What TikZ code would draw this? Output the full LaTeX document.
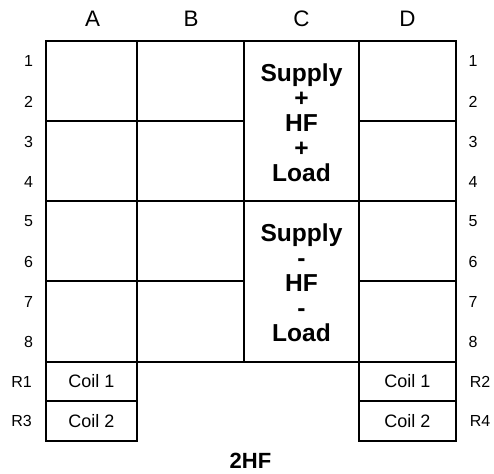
\documentclass[tikz,border=0pt]{standalone}
\usepackage{fontspec}
\setmainfont{Liberation Sans}
\begin{document}
\begin{tikzpicture}[x=0.75pt,y=-0.75pt,
  cellbox/.style={draw=black,line width=1.35pt,inner sep=0pt,fill=white,rectangle},
  headtxt/.style={inner sep=0pt,text=black,font=\fontsize{16.8pt}{18pt}\selectfont},
  rowtxt/.style={inner sep=0pt,text=black,font=\fontsize{12pt}{14pt}\selectfont},
  coiltxt/.style={inner sep=0pt,text=black,font=\fontsize{13.5pt}{15pt}\selectfont},
  bigtxt/.style={inner sep=0pt,text=black,align=center,font=\fontsize{18.4pt}{18.75pt}\selectfont\bfseries},
]
\useasboundingbox (0,0) rectangle (494,474);
\foreach \nm/\xa/\xb in {A/46/137,B/137/244,D/359/456}{
  \foreach \r/\ya/\yb in {p/41/121,q/121/201,r/201/281,s/281/362}{
    \node[cellbox,minimum width={(\xb-\xa)*0.75pt},minimum height={(\yb-\ya)*0.75pt}] (\nm\r) at ({(\xa+\xb)/2},{(\ya+\yb)/2}) {};
  }
}
\node[cellbox,minimum width=86.25pt,minimum height=120pt] (Cp) at (301.5,121) {};
\node[cellbox,minimum width=86.25pt,minimum height=120.75pt] (Cq) at (301.5,281.5) {};
\node[bigtxt] (Tp) at (301.5,122.5) {Supply\\+\\HF\\+\\Load};
\node[bigtxt] (Tq) at (301.5,282.5) {Supply\\-\\HF\\-\\Load};
\node[cellbox,coiltxt,minimum width=68.25pt,minimum height=29.25pt] (c1) at (91.5,381.5) {Coil 1};
\node[cellbox,coiltxt,minimum width=68.25pt,minimum height=30pt] (c2) at (91.5,421) {Coil 2};
\node[cellbox,coiltxt,minimum width=72.75pt,minimum height=29.25pt] (c3) at (407.5,381.5) {Coil 1};
\node[cellbox,coiltxt,minimum width=72.75pt,minimum height=30pt] (c4) at (407.5,421) {Coil 2};
\node[headtxt] (hA) at (92.5,19) {A};
\node[headtxt] (hB) at (191,19) {B};
\node[headtxt] (hC) at (301.5,19) {C};
\node[headtxt] (hD) at (407.5,19) {D};
\foreach \t/\y in {1/61,2/102,3/142,4/182,5/221,6/262,7/302,8/342}{
  \node[rowtxt] (l\t) at (28.5,\y) {\t};
  \node[rowtxt] (r\t) at (473,\y) {\t};
}
\node[rowtxt] (lR1) at (21.5,382) {R1};
\node[rowtxt] (lR3) at (21.5,421) {R3};
\node[rowtxt] (rR2) at (480,382) {R2};
\node[rowtxt] (rR4) at (480,421) {R4};
\node[inner sep=0pt,font=\fontsize{16.5pt}{17pt}\selectfont\bfseries] (title) at (250.5,461) {2HF};
\end{tikzpicture}
\end{document}
